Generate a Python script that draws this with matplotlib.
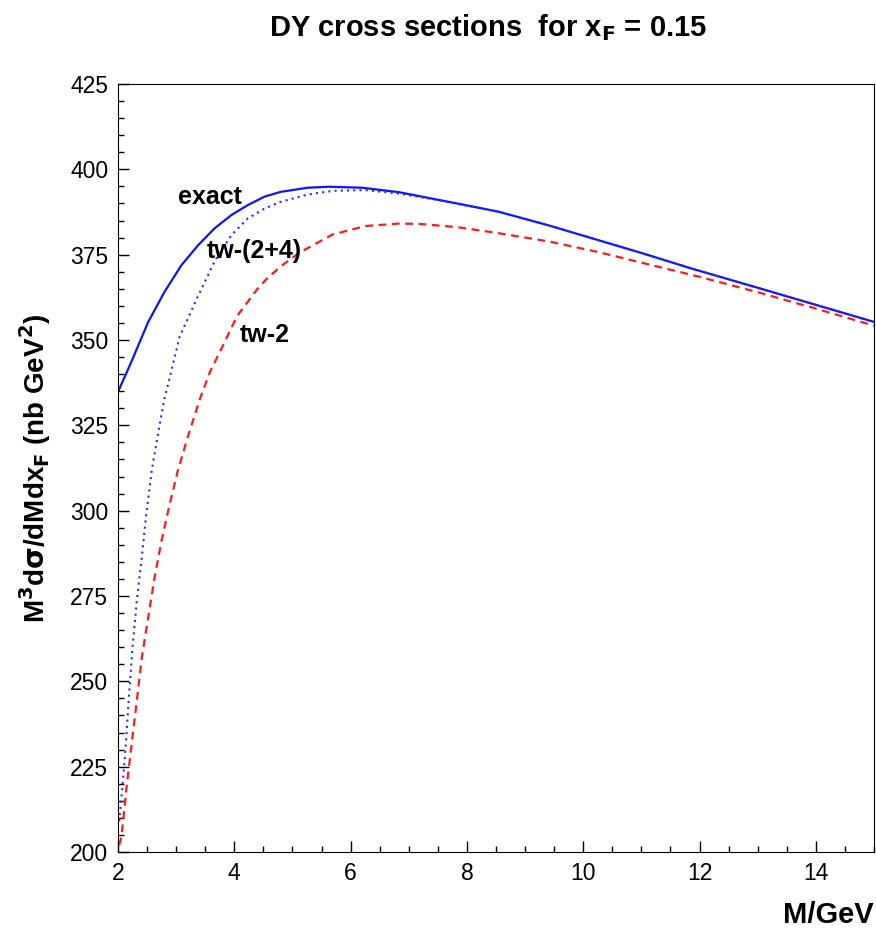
import matplotlib
matplotlib.use("Agg")
from matplotlib import pyplot
from matplotlib.ticker import MultipleLocator

pyplot.rcParams["font.family"] = ["Liberation Sans", "DejaVu Sans"]
pyplot.rcParams["mathtext.default"] = "bf"

# exact result (solid blue)
m_exact = [2.0, 2.23, 2.52, 2.80, 3.09, 3.38, 3.66, 3.95, 4.23, 4.52, 4.80,
           5.26, 5.63, 6.2, 6.83, 7.86, 8.54, 9.4, 10.25, 11.0, 11.85, 13.0,
           14.0, 15.0]
xs_exact = [334.8, 343.6, 355.3, 364.1, 371.9, 377.8, 382.7, 386.6, 389.5,
            392.0, 393.4, 394.6, 394.9, 394.6, 393.3, 389.9, 387.6, 383.6,
            379.3, 375.5, 371.0, 365.3, 360.3, 355.3]

# twist-(2+4) (dotted blue)
m_tw24 = [2.02, 2.06, 2.12, 2.19, 2.25, 2.32, 2.41, 2.48, 2.58, 2.72, 2.80,
          2.89, 3.06, 3.38, 3.66, 3.95, 4.23, 4.52, 4.80, 5.26, 5.69, 6.26,
          6.83, 7.5, 7.86, 8.54, 9.4, 10.25, 11.0, 11.85, 13.0, 14.0, 15.0]
xs_tw24 = [209.0, 216.0, 228.0, 246.0, 260.0, 273.0, 286.5, 298.0, 311.8,
           325.6, 333.0, 339.0, 351.0, 363.0, 373.0, 380.7, 385.6, 388.5,
           390.5, 392.6, 393.7, 393.9, 392.9, 391.0, 389.8, 387.6, 383.6,
           379.3, 375.5, 371.0, 365.3, 360.3, 355.3]

# twist-2 (dashed red)
m_tw2 = [2.02, 2.06, 2.15, 2.23, 2.31, 2.41, 2.52, 2.63, 2.75, 2.89, 3.03,
         3.2, 3.4, 3.58, 3.78, 3.97, 4.06, 4.40, 4.55, 4.80, 5.12, 5.69, 6.26,
         6.83, 7.2, 7.86, 8.54, 9.4, 10.25, 11.4, 12.0, 13.0, 14.0, 15.0]
xs_tw2 = [202.0, 204.5, 219.4, 231.0, 242.4, 257.0, 268.8, 280.5, 291.3,
          302.0, 311.8, 321.6, 332.3, 340.6, 347.5, 354.3, 357.3, 365.0,
          367.8, 371.6, 375.6, 380.9, 383.4, 384.1, 384.0, 383.0, 381.3,
          378.9, 375.8, 371.0, 368.5, 364.0, 359.2, 354.2]

labels = ["exact", "tw-(2+4)", "tw-2"]
label_pos = [(3.03, 391.8), (3.52, 376.2), (4.1, 351.6)]

fig = pyplot.figure(figsize=(8.76, 9.32), dpi=100)
ax = fig.add_axes([0.1347, 0.0858, 0.863, 0.8241])

ax.plot(m_exact, xs_exact, color="#0a14ff", lw=1.6, ls="-")
ax.plot(m_tw24, xs_tw24, color="#2828ff", lw=1.5, ls=(0, (1, 2)))
ax.plot(m_tw2, xs_tw2, color="#ff1a1a", lw=1.6, ls=(0, (3.5, 2.5)))

for text, (x, y) in zip(labels, label_pos):
    ax.text(x, y, text, fontsize=18, fontweight="bold", va="center", ha="left")

ax.set_xlim(2, 15)
ax.set_ylim(200, 425)
ax.xaxis.set_major_locator(MultipleLocator(2))
ax.xaxis.set_minor_locator(MultipleLocator(0.5))
ax.yaxis.set_major_locator(MultipleLocator(25))
ax.yaxis.set_minor_locator(MultipleLocator(5))
ax.tick_params(which="both", direction="in", top=False, right=False,
               labelsize=16.5, width=1)
ax.tick_params(which="major", length=8, pad=7)
ax.tick_params(which="minor", length=4)

fig.text(0.557, 0.97, r"DY cross sections  for x$_\mathbf{F}$ = 0.15",
         fontsize=21, fontweight="bold", ha="center", va="center")
fig.text(0.997, 0.018, "M/GeV", fontsize=21, fontweight="bold",
         ha="right", va="center")
ax.set_ylabel(r"M$^\mathbf{3}$d$\sigma$/dMdx$_\mathbf{F}$ (nb GeV$^\mathbf{2}$)",
              fontsize=20, fontweight="bold", labelpad=12)

fig.savefig("out.png", dpi=100)
